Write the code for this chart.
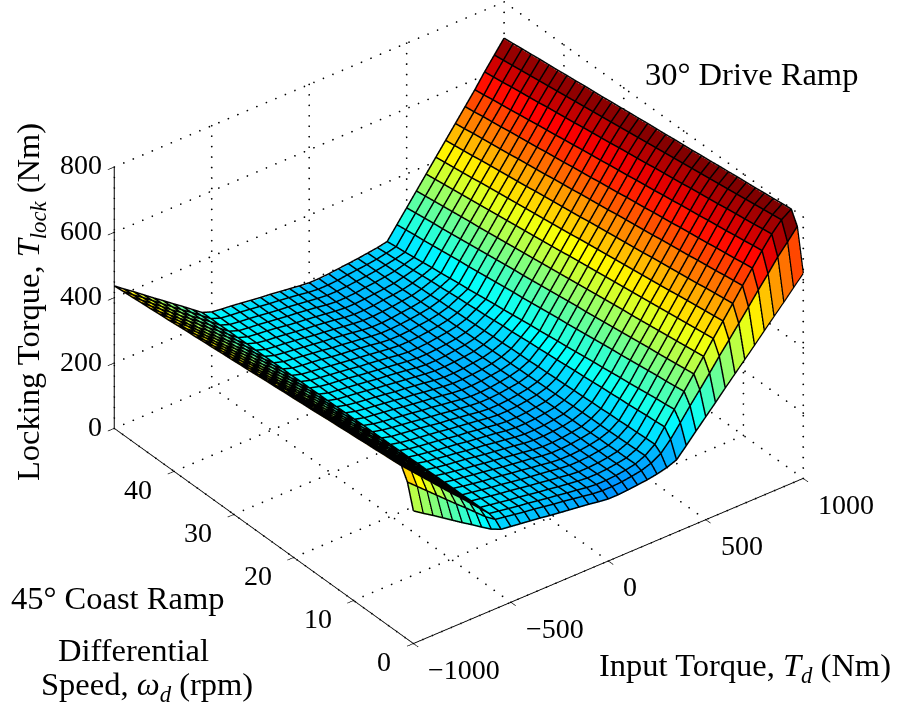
import numpy as np, plotly.graph_objects as go

torque_nm = [-1000,-950,-900,-850,-800,-750,-700,-650,-600,-550,-500,-450,-400,-350,-300,-250,-200,-150,-100,-50,0,50,100,150,200,250,300,350,400,450,500,550,600,650,700,750,800,850,900,950,1000]
speed_rpm = [0,1,2,3.5,5,6.5,8,9.5,11,12.5,14,15.5,17,18.5,20,21.5,23,24.5,26,27.5,29,30.5,32,33.5,35,36.5,38,39.5,41,42.5,44,45.5,47,48.5,50]
locking_torque = [
[403,383,364,344,324,304,285,265,246,233,229,225,221,217,212,208,204,200,196,191,187,187,189,192,195,200,207,218,249,281,312,343,375,406,437,468,500,531,562,594,625],
[478,452,426,400,374,348,323,297,271,250,245,240,235,231,226,221,217,212,207,202,199,199,201,205,210,220,237,268,306,345,382,420,459,496,534,572,611,648,687,720,755],
[515,486,457,428,399,370,342,313,284,255,250,245,240,236,231,226,222,217,213,208,205,205,207,211,217,230,252,293,334,376,417,458,500,541,582,624,665,706,744,775,795],
[512,484,455,426,397,369,341,312,283,254,249,244,239,235,230,225,221,216,212,208,205,205,207,211,216,229,251,290,330,372,413,454,496,537,578,620,661,702,740,771,792],
[510,481,453,424,396,367,340,311,282,254,249,244,239,235,230,225,221,216,212,207,204,204,206,210,216,228,249,288,327,368,409,450,492,533,574,616,656,697,735,767,788],
[507,479,451,422,394,366,338,310,282,253,248,243,238,234,229,224,220,216,212,207,204,204,206,210,215,227,248,285,323,365,405,446,488,529,570,611,652,693,731,763,785],
[505,477,449,420,392,364,337,309,281,253,247,242,237,233,229,224,220,215,211,206,203,203,205,209,215,226,246,282,319,361,401,442,484,525,565,607,648,688,727,759,781],
[502,474,447,419,391,363,336,308,280,252,246,242,237,233,228,223,219,215,211,206,203,203,205,209,214,225,245,280,315,357,398,438,480,521,561,603,643,684,723,755,778],
[500,472,444,417,389,362,335,307,280,252,246,241,236,232,227,223,219,214,210,205,202,202,204,208,213,225,243,277,312,353,394,434,476,516,557,598,639,680,718,751,775],
[497,470,442,415,387,360,333,306,279,251,245,240,236,232,227,222,218,214,210,205,202,202,204,207,213,224,242,275,308,349,390,430,472,512,553,594,635,675,714,747,771],
[495,467,440,413,386,359,332,305,278,251,244,240,235,231,226,222,218,213,209,204,201,201,203,207,212,223,240,272,304,346,386,426,468,508,549,590,631,671,710,743,768],
[492,465,438,411,384,357,331,304,277,250,244,239,234,230,226,221,217,213,209,204,201,201,203,207,212,222,239,269,301,342,382,423,464,504,545,586,626,667,706,739,764],
[489,463,436,409,382,356,330,303,277,250,243,238,234,230,225,220,217,212,208,203,200,200,202,206,211,221,237,267,297,338,378,419,460,500,540,581,622,662,701,735,761],
[487,460,434,407,381,354,329,302,276,249,242,237,233,229,225,220,216,212,208,203,200,200,202,206,211,220,236,264,293,334,374,415,456,496,536,577,618,658,697,731,757],
[484,458,432,405,379,353,327,301,275,249,241,237,233,229,224,219,216,211,207,202,199,199,201,205,210,219,234,261,289,330,370,411,452,492,532,573,613,653,693,727,754],
[482,456,430,404,377,352,326,300,274,248,241,236,232,228,223,219,215,210,206,202,199,199,201,205,209,218,233,259,286,326,367,407,448,488,528,569,609,649,689,723,751],
[479,453,428,402,376,350,325,299,274,248,240,235,231,227,223,218,215,210,206,201,198,198,200,204,209,217,231,256,282,323,363,403,444,484,524,565,605,645,684,719,747],
[477,451,426,400,374,349,324,298,273,247,239,235,231,227,222,218,214,210,206,201,198,198,200,204,208,216,230,254,278,319,359,399,440,480,520,560,600,640,680,715,744],
[474,449,424,398,373,348,323,298,272,247,239,234,230,226,222,217,214,209,205,201,198,198,200,203,208,216,229,251,275,315,355,395,436,476,516,556,596,636,676,711,741],
[471,446,421,396,371,346,321,297,271,246,238,233,229,225,221,216,213,209,205,200,197,197,199,203,207,215,227,248,271,311,351,391,431,471,511,552,592,632,672,707,737],
[469,444,419,394,369,345,320,296,271,245,237,233,229,225,220,216,212,208,204,200,197,197,199,202,206,214,226,246,267,307,347,387,427,467,507,548,587,627,667,703,734],
[466,441,417,392,368,343,319,295,270,245,236,232,228,224,220,215,212,208,204,199,196,196,198,202,206,213,224,243,263,304,343,383,423,463,503,543,583,623,663,699,730],
[464,439,415,391,366,342,318,294,269,244,236,231,228,224,219,215,211,207,203,199,196,196,198,201,205,212,223,240,260,300,340,379,419,459,499,539,579,619,659,695,727],
[461,437,413,389,364,340,316,293,268,244,235,231,227,223,219,214,211,207,203,198,195,195,197,201,205,211,221,238,256,296,336,375,415,455,495,535,574,614,655,691,723],
[459,434,411,387,363,339,315,292,268,243,234,230,226,222,218,214,210,206,202,198,195,195,197,200,204,210,220,235,252,292,332,371,411,451,491,530,570,610,650,687,720],
[456,432,409,385,361,338,314,291,267,243,233,229,226,222,217,213,210,206,202,197,194,194,196,200,203,209,218,233,248,288,328,367,407,447,486,526,566,605,646,683,717],
[454,430,407,383,359,336,313,290,266,242,233,229,225,221,217,212,209,205,201,197,194,194,196,199,203,208,217,230,245,284,324,363,403,443,482,522,561,601,642,679,713],
[451,427,405,381,358,335,311,289,265,242,232,228,224,220,216,212,209,205,201,196,193,193,195,199,202,207,215,227,241,281,320,359,399,439,478,518,557,597,638,675,710],
[448,425,403,379,356,333,310,288,265,241,231,227,224,220,216,211,208,204,200,196,193,193,195,198,202,206,214,225,237,277,316,356,395,435,474,513,553,592,633,671,706],
[446,423,400,377,354,332,309,287,264,241,231,226,223,219,215,211,208,204,200,195,192,192,194,198,201,205,212,222,234,273,312,352,391,431,470,509,549,588,629,667,703],
[443,420,398,375,353,331,308,286,263,240,230,226,223,219,214,210,207,203,199,195,192,192,194,197,200,204,211,219,230,269,308,348,387,426,466,505,544,583,625,663,700],
[441,418,396,374,351,329,307,285,262,240,229,225,222,218,214,210,207,203,199,194,191,191,193,197,200,204,209,217,226,265,305,344,383,422,461,501,540,579,621,659,696],
[438,416,394,372,349,328,305,284,262,239,228,224,221,217,213,209,206,202,198,194,191,191,193,196,199,203,208,214,222,262,301,340,379,418,457,497,536,575,616,655,693],
[436,413,392,370,348,326,304,283,261,239,228,224,221,217,213,209,206,202,198,193,190,190,192,196,199,202,206,212,219,258,297,336,375,414,453,492,531,570,612,651,689],
[433,411,390,368,346,325,303,282,260,238,227,223,220,216,212,208,205,201,197,193,190,190,192,195,198,201,205,209,215,254,293,332,371,410,449,488,527,566,608,647,686],
]
x_ticks = [-1000,-500,0,500,1000]
y_ticks = [0,10,20,30,40]
z_ticks = [0,200,400,600,800]
x_labels = ['\u22121000','\u2212500','0','500','1000']
y_labels = ['0','10','20','30','40']
z_labels = ['0','200','400','600','800']

T=np.array(torque_nm,float); Y=np.array(speed_rpm,float); Z=np.array(locking_torque,float)
norm=np.r_[768,720,0.97*Z[2:,40]]
C=(Z.T/norm).T
C[0]+=0.03
C[2:]=0.035+0.965*C[2:]
jet=[[0,'rgb(0,0,128)'],[.125,'rgb(0,0,255)'],[.375,'rgb(0,255,255)'],[.625,'rgb(255,255,0)'],[.875,'rgb(255,0,0)'],[1,'rgb(128,0,0)']]
def dbl(a):
    a=list(a);o=[a[0]]
    for v in a[1:]:
        o+=[v-1e-3,v]
    return np.array(o)
nr,nc=Z.shape
ri=[0]+[k for r in range(1,nr) for k in (r,r)]
ci=[0]+[k for c in range(1,nc) for k in (c,c)]
rc=[0]+[k for r in range(nr-1) for k in (r,r+1)]
cc=[0]+[k for c in range(nc-1) for k in (c,c+1)]
fig=go.Figure()
fig.add_trace(go.Surface(x=dbl(T),y=dbl(Y),z=Z[np.ix_(ri,ci)],surfacecolor=C[np.ix_(rc,cc)],cmin=0,cmax=1,colorscale=jet,showscale=False,hoverinfo='skip',
      lighting=dict(ambient=1,diffuse=0,specular=0,fresnel=0)))
lift=3
mx,my,mz=[],[],[]
for r in range(nr):
    mx+=list(T)+[None];my+=[Y[r]]*nc+[None];mz+=list(Z[r]+lift)+[None]
for k in range(nc):
    mx+=[T[k]]*nr+[None];my+=list(Y)+[None];mz+=list(Z[:,k]+lift)+[None]
fig.add_trace(go.Scatter3d(x=mx,y=my,z=mz,mode='lines',line=dict(color='black',width=3),hoverinfo='skip',showlegend=False))
gx,gy,gz=[],[],[]
def seg(a,b,n):
    for k in np.linspace(0,1,n):
        gx.append(a[0]+(b[0]-a[0])*k);gy.append(a[1]+(b[1]-a[1])*k);gz.append(a[2]+(b[2]-a[2])*k)
for x in x_ticks:
    seg((x,0,0),(x,50,0),37);seg((x,50,0),(x,50,800),26)
for y in y_ticks:
    seg((-1000,y,0),(1000,y,0),42);seg((1000,y,0),(1000,y,800),26)
for z in z_ticks:
    seg((-1000,50,z),(1000,50,z),42);seg((1000,0,z),(1000,50,z),37)
seg((1000,50,0),(1000,50,800),26)
fig.add_trace(go.Scatter3d(x=gx,y=gy,z=gz,mode='markers',marker=dict(color='black',size=1,line=dict(width=0)),hoverinfo='skip',showlegend=False))
ax=dict(showgrid=False,showbackground=False,zeroline=False,showline=True,linecolor='black',linewidth=2,ticks='outside',ticklen=8,tickcolor='black',tickwidth=1.5,showticklabels=False,title='',showspikes=False)
el=np.radians(33.5);az=np.radians(37.5);r=1.32
d=np.array([-np.sin(az)*np.cos(el),-np.cos(az)*np.cos(el),np.sin(el)])
c=np.array([-.023,.0177,-.103]);e=c+r*d
tick_font=dict(family='Liberation Serif',size=28,color='black')
scene_notes=[]
for v,t in zip(x_ticks,x_labels):
    scene_notes.append(dict(x=v,y=0,z=0,text=t,showarrow=False,font=tick_font,xanchor='left',yanchor='middle',xshift=13,yshift=-26))
for v,t in zip(y_ticks,y_labels):
    scene_notes.append(dict(x=-1000,y=v,z=0,text=t,showarrow=False,font=tick_font,xanchor='right',yanchor='middle',xshift=-20,yshift=-18))
for v,t in zip(z_ticks,z_labels):
    scene_notes.append(dict(x=-1000,y=50,z=v,text=t,showarrow=False,font=tick_font,xanchor='right',yanchor='middle',xshift=-10,yshift=2))
fig.update_layout(width=897,height=706,margin=dict(l=0,r=0,t=0,b=0),paper_bgcolor='white',showlegend=False,
 scene=dict(domain=dict(x=[0,1],y=[0,1]),aspectmode='manual',aspectratio=dict(x=1.392,y=1.392,z=0.888),annotations=scene_notes,
  xaxis=dict(ax,range=[-1000,1000],tickvals=x_ticks),yaxis=dict(ax,range=[0,50],tickvals=y_ticks),zaxis=dict(ax,range=[0,800],tickvals=z_ticks),
  camera=dict(projection=dict(type='orthographic'),eye=dict(x=e[0],y=e[1],z=e[2]),center=dict(x=c[0],y=c[1],z=c[2]),up=dict(x=0,y=0,z=1))))
def note(t,x,y,rot=0):
    fig.add_annotation(text=t,x=x/897,y=1-y/706,xref='paper',yref='paper',showarrow=False,font=dict(family='Liberation Serif',size=32.5,color='black'),textangle=rot,xanchor='center',yanchor='middle')
note('30° Drive Ramp',751,74);note('45° Coast Ramp',118,598);note('Differential',133,650);note('Speed, <i>ω<sub>d</sub></i> (rpm)',147,686)
note('Input Torque, <i>T<sub>d</sub></i> (Nm)',745,667);note('Locking Torque, <i>T<sub>lock</sub></i> (Nm)',30,302,-90)
fig.write_html('out.html',post_script="document.body.style.margin='0';",config=dict(displayModeBar=False))
